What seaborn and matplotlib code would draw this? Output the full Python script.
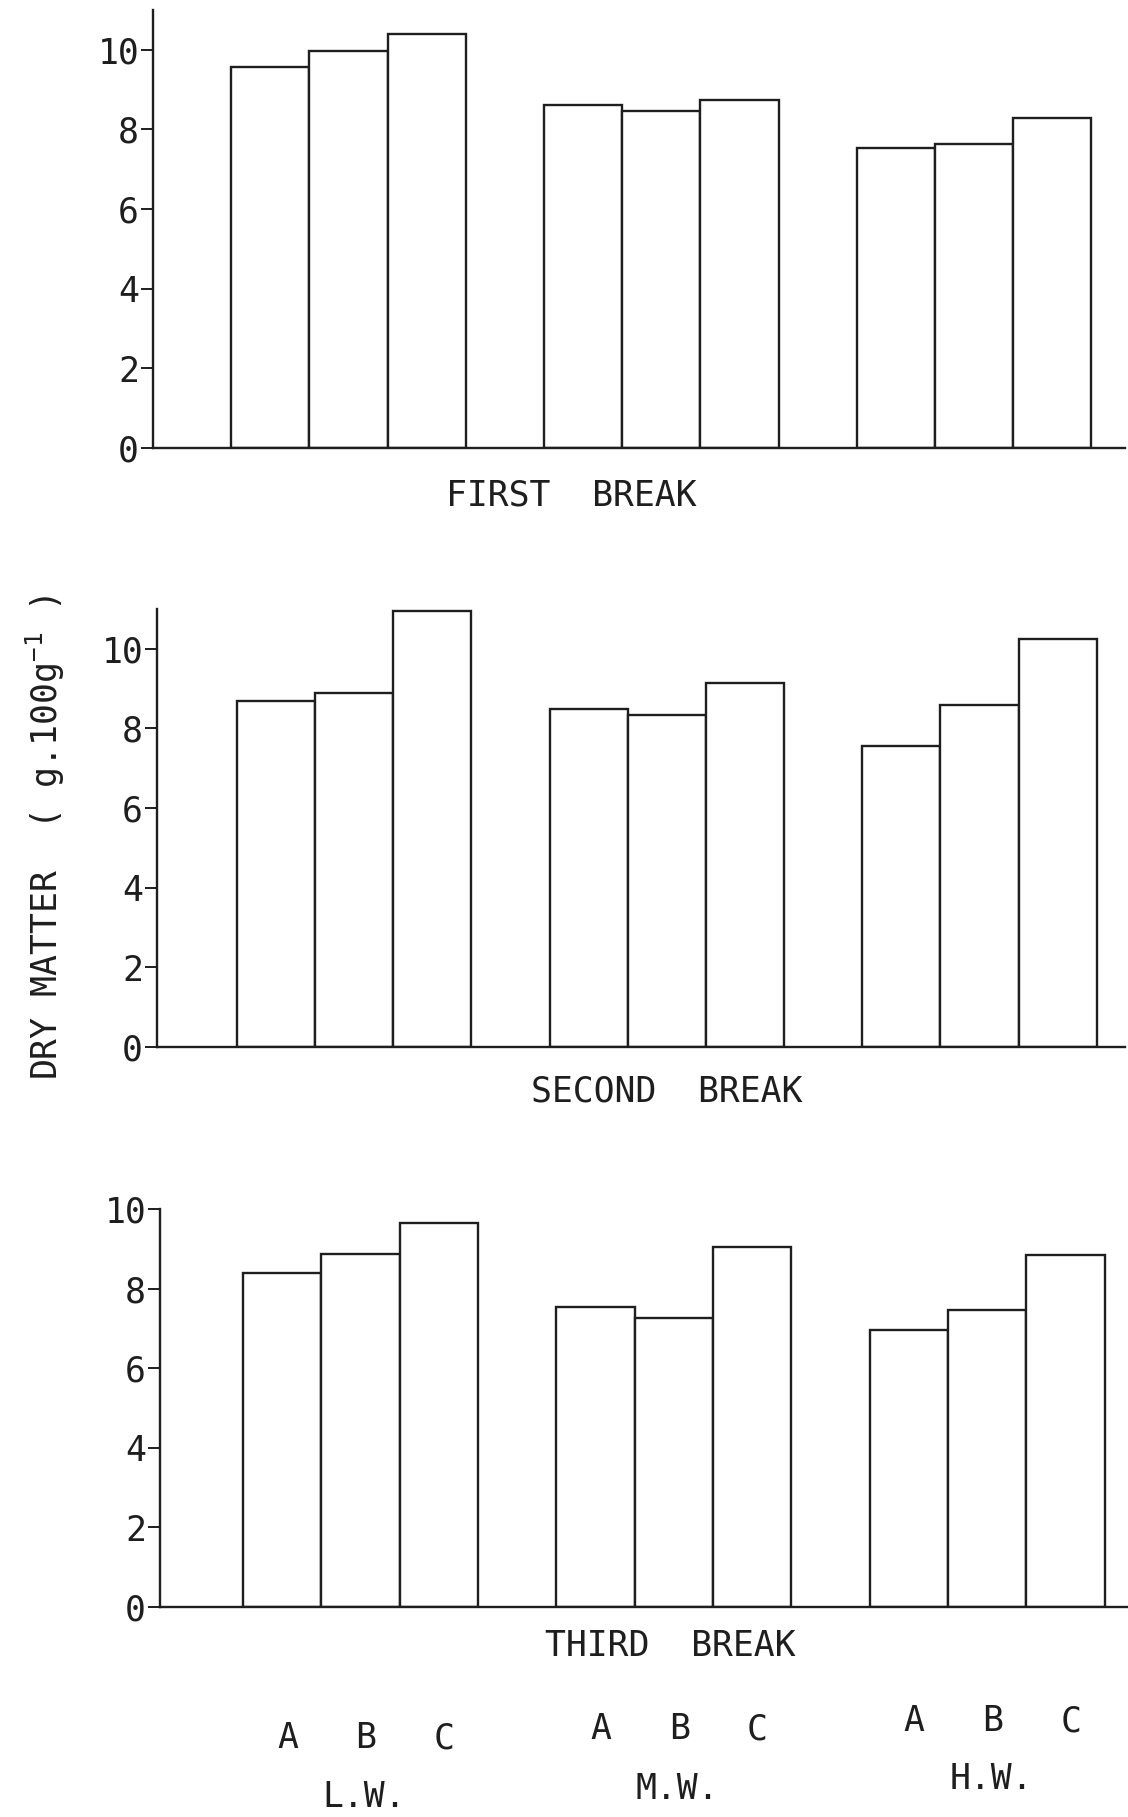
import numpy as np
import pandas as pd
import matplotlib
matplotlib.use("Agg")
import matplotlib.pyplot as plt
import matplotlib.transforms as mtransforms
from matplotlib import font_manager
import seaborn as sns

# Dry matter (g.100g-1) per treatment within each weight class, for each break
groups = ["L.W.", "M.W.", "H.W."]
treatments = ["A", "B", "C"]
first_break = [9.56, 9.98, 10.40, 8.62, 8.46, 8.74, 7.54, 7.63, 8.29]
second_break = [8.69, 8.88, 10.96, 8.49, 8.35, 9.13, 7.55, 8.58, 10.25]
third_break = [8.39, 8.88, 9.65, 7.55, 7.26, 9.04, 6.97, 7.45, 8.85]
break_titles = ["FIRST  BREAK", "SECOND  BREAK", "THIRD  BREAK"]
y_ticks = [0, 2, 4, 6, 8, 10]

sns.set_style("ticks")
# plotter-style lettering: evenly spaced monospaced glyphs
plt.rcParams["font.family"] = ["DejaVu Sans Mono", "DejaVu Sans"]
plt.rcParams["mathtext.default"] = "regular"

# narrow digits for the scale numbers
available = {f.name for f in font_manager.fontManager.ttflist}
digit_family = next((n for n in ["Liberation Sans Narrow", "DejaVu Sans Mono"]
                     if n in available), "DejaVu Sans Mono")

INK = "#1e1e1e"
W, H = 1128, 1817
fig = plt.figure(figsize=(W / 100, H / 100), dpi=100)


def frame(left, zero_y, top_y, right):
    """Axes rectangle from pixel positions (origin at top-left)."""
    return [left / W, 1 - zero_y / H, (right - left) / W, (zero_y - top_y) / H]


panels = [
    dict(values=first_break, rect=frame(153, 448, 10, 1125), ylim=(0, 11.0), xlim=(0, 12.43)),
    dict(values=second_break, rect=frame(157, 1047, 609, 1125), ylim=(0, 11.0), xlim=(-0.02, 12.36)),
    dict(values=third_break, rect=frame(160, 1607, 1209, 1128), ylim=(0, 10.0), xlim=(-0.06, 12.3)),
]

# each weight class occupies three slots, separated by an empty slot
positions = [1.5 + 4 * g + t for g in range(len(groups)) for t in range(len(treatments))]

axes = []
for p in panels:
    ax = fig.add_axes(p["rect"])
    df = pd.DataFrame({
        "group": np.repeat(groups, len(treatments)),
        "treatment": treatments * len(groups),
        "pos": positions,
        "value": p["values"],
    })
    sns.barplot(data=df, x="pos", y="value", native_scale=True, width=1.0,
                color="white", saturation=1, edgecolor=INK, linewidth=1.7,
                errorbar=None, ax=ax)
    ax.set_xlim(*p["xlim"])
    ax.set_ylim(*p["ylim"])
    ax.set_yticks(y_ticks)
    ax.set_yticklabels([str(t) for t in y_ticks], family=digit_family)
    ax.set_xticks([])
    ax.set_xlabel("")
    ax.set_ylabel("")
    for side in ("top", "right"):
        ax.spines[side].set_visible(False)
    for side in ("left", "bottom"):
        ax.spines[side].set_color(INK)
        ax.spines[side].set_linewidth(1.7)
    ax.tick_params(axis="y", direction="out", length=9, width=1.4, pad=1,
                   labelsize=25, colors=INK)
    ax.patch.set_alpha(0)
    axes.append(ax)

# panel captions
title_xy = [(571, 495), (667, 1092), (670, 1646)]
for (tx, ty), title in zip(title_xy, break_titles):
    fig.text(tx / W, 1 - ty / H, title, ha="center", va="center",
             fontsize=25, color=INK)

# treatment letters and weight-class names under the last panel
ax3 = axes[-1]
trans = mtransforms.blended_transform_factory(ax3.transData, fig.transFigure)
letter_y = [1738, 1729, 1721]
group_y = [1797, 1789, 1779]
for g, name in enumerate(groups):
    for t, letter in enumerate(treatments):
        x = positions[g * len(treatments) + t] + 0.07
        ax3.text(x, 1 - letter_y[g] / H, letter, transform=trans,
                 ha="center", va="center", fontsize=25, color=INK)
    ax3.text(positions[g * len(treatments) + 1] + 0.05, 1 - group_y[g] / H, name,
             transform=trans, ha="center", va="center", fontsize=25, color=INK)

fig.text(45 / W, 1 - 837 / H, r"DRY MATTER  ( g.100g$^{-1}$ )", rotation=90,
         ha="center", va="center", fontsize=25, color=INK)

fig.savefig("out.png", dpi=100, facecolor="white")
